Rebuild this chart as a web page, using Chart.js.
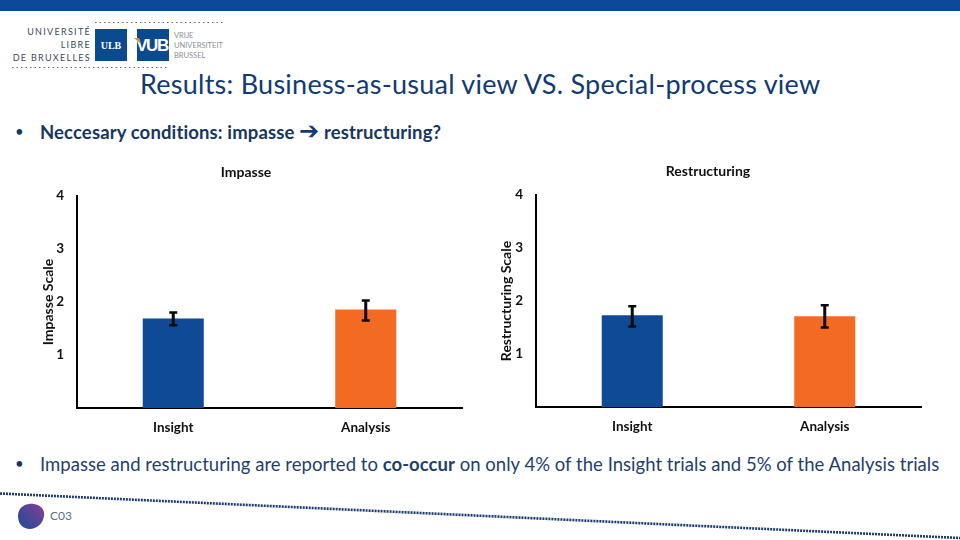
<!DOCTYPE html>
<html><head><meta charset="utf-8">
<script src="https://cdn.jsdelivr.net/npm/chart.js@4"></script>
<style>
html,body{margin:0;padding:0;background:#fff;}
#s{position:relative;width:960px;height:540px;overflow:hidden;font-family:Lato,sans-serif;color:#17365f;}
.t{position:absolute;white-space:nowrap;line-height:1;}
canvas{position:absolute;}
</style></head><body>
<div id="s">
<div style="position:absolute;left:0;top:0;width:960px;height:11px;background:#0c4a99"></div>
<svg style="position:absolute;left:0;top:0" width="960" height="540">
 <defs><linearGradient id="g" x1="0" y1="1" x2="1" y2="0"><stop offset="0.2" stop-color="#2f4a96"/><stop offset="1" stop-color="#8a3c96"/></linearGradient></defs>
 <line x1="95" y1="22.5" x2="223" y2="22.5" stroke="#666" stroke-width="1.2" stroke-dasharray="1.5 3"/>
 <line x1="12" y1="67.5" x2="168" y2="67.5" stroke="#666" stroke-width="1.2" stroke-dasharray="1.5 3"/>
 <rect x="95" y="29" width="32" height="32" fill="#0c4a8f"/>
 <rect x="137" y="29" width="32" height="32" fill="#0c4a8f"/>
 <line x1="0" y1="493.5" x2="960" y2="538" stroke="#1c3c72" stroke-width="2.6" stroke-dasharray="2 1"/>
 <path d="M18 516 C18 507 26 503 34 504 C41 505 45 510 44 516 C43 524 36 529 30 529 C23 529 18 524 18 516 Z" fill="url(#g)"/>
</svg>
<div class="t" style="right:869px;top:27px;font-size:9px;letter-spacing:1.3px;color:#3d4a5a;">UNIVERSITÉ</div>
<div class="t" style="right:869px;top:40px;font-size:9px;letter-spacing:1.3px;color:#3d4a5a;">LIBRE</div>
<div class="t" style="right:869px;top:53px;font-size:9px;letter-spacing:1.3px;color:#3d4a5a;">DE BRUXELLES</div>
<div class="t" style="left:95px;width:32px;text-align:center;top:40px;font:bold 10px 'Liberation Serif',serif;color:#fff;">ULB</div>
<div class="t" style="left:135px;width:34px;text-align:center;top:36px;font:bold 17px 'Liberation Sans',sans-serif;letter-spacing:-1.4px;color:#fff;">VUB</div>
<svg style="position:absolute;left:0;top:0" width="960" height="540"><path d="M134 38 L139 38 L141 44 Z" fill="#e08a3c"/></svg>
<div class="t" style="left:174px;top:32px;font-size:7.5px;color:#8a8f96;">VRIJE</div>
<div class="t" style="left:174px;top:42px;font-size:7.5px;color:#8a8f96;">UNIVERSITEIT</div>
<div class="t" style="left:174px;top:52px;font-size:7.5px;color:#8a8f96;">BRUSSEL</div>
<div class="t" id="title" style="left:140px;top:70px;font-size:27px;letter-spacing:0.25px;color:#123a73;">Results: Business-as-usual view VS. Special-process view</div>
<div class="t" style="left:15px;top:124px;font-size:15px;color:#17365f;">•</div>
<div class="t" id="l1" style="left:40px;top:122.5px;font-size:18.5px;font-weight:700;letter-spacing:0.13px;color:#17365f;">Neccesary conditions: impasse <span style="font-family:'DejaVu Sans';font-size:24px;line-height:10px;color:#123a73;">➔</span> restructuring?</div>
<div class="t" style="left:15px;top:456px;font-size:15px;color:#17365f;">•</div>
<div class="t" id="l2" style="left:40px;top:454.5px;font-size:18.5px;letter-spacing:0.03px;color:#1f3f6d;">Impasse and restructuring are reported to <b>co-occur</b> on only 4% of the Insight trials and 5% of the Analysis trials</div>
<div class="t" style="left:50px;top:510px;font-size:12px;color:#5c6f8c;">C03</div>
<canvas id="a" style="left:30px;top:160px;width:444px;height:280px"></canvas>
<canvas id="b" style="left:495px;top:159px;width:428px;height:280px"></canvas>
</div>
<script>
const categories = ["Insight", "Analysis"];
const barColors = ["#0f4a96", "#f36a22"];
const tickLabels = [1, 2, 3, 4];
const impasseValues = [1.69, 1.86];
const impasseLow = [1.56, 1.65];
const impasseHigh = [1.80, 2.03];
const restructuringValues = [1.73, 1.71];
const restructuringLow = [1.52, 1.50];
const restructuringHigh = [1.90, 1.92];

function errorBars(low, high) {
  return {
    id: "errorBars",
    afterDatasetsDraw(chart) {
      const c = chart.ctx, y = chart.scales.y, x = chart.scales.x;
      c.save();
      c.strokeStyle = "#0a0a0a";
      low.forEach((lo, i) => {
        const px = x.getPixelForValue(i), a = y.getPixelForValue(lo), b = y.getPixelForValue(high[i]);
        c.lineWidth = 3;
        c.beginPath(); c.moveTo(px, a); c.lineTo(px, b); c.stroke();
        c.lineWidth = 2.5;
        c.beginPath();
        c.moveTo(px - 4, a); c.lineTo(px + 4, a);
        c.moveTo(px - 4, b); c.lineTo(px + 4, b);
        c.stroke();
      });
      c.restore();
    }
  };
}

function makeChart(id, title, axisTitle, values, low, high, yWidth, rightPad, titleInset) {
  const tickFont = { family: "Lato", size: 13.5, weight: "700" };
  new Chart(document.getElementById(id), {
    type: "bar",
    data: { labels: categories, datasets: [{ data: values, backgroundColor: barColors, categoryPercentage: 1, barPercentage: 0.317 }] },
    plugins: [errorBars(low, high)],
    options: {
      responsive: false,
      animation: false,
      devicePixelRatio: 1,
      layout: { padding: { left: 0, right: rightPad, top: 0, bottom: 0 } },
      plugins: {
        legend: { display: false },
        tooltip: { enabled: false },
        title: { display: true, text: title, color: "#111", font: { family: "Lato", size: 14, weight: "700" }, padding: { top: 4, bottom: 15.2 } }
      },
      scales: {
        x: {
          grid: { display: false, drawTicks: false },
          border: { color: "#000", width: 2 },
          ticks: { color: "#111", font: tickFont, padding: 12 },
          afterFit(s) { s.height = 32; }
        },
        y: {
          min: 0, max: 4,
          afterBuildTicks(s) { s.ticks = [0].concat(tickLabels).map(v => ({ value: v })); },
          grid: { display: false, drawTicks: false },
          border: { color: "#000", width: 2 },
          ticks: { color: "#111", font: tickFont, padding: 13, callback: v => (tickLabels.includes(v) ? String(v) : "") },
          title: { display: true, text: axisTitle, color: "#111", font: { family: "Lato", size: 14, weight: "700" }, padding: { top: titleInset, bottom: 0 } },
          afterFit(s) { s.width = yWidth; }
        }
      }
    }
  });
}
const A = document.getElementById("a"), B = document.getElementById("b");
A.width = 444; A.height = 280; B.width = 428; B.height = 280;
makeChart("a", "Impasse", "Impasse Scale", impasseValues, impasseLow, impasseHigh, 47, 12, 9.6);
makeChart("b", "Restructuring", "Restructuring Scale", restructuringValues, restructuringLow, restructuringHigh, 41, 2, 2.6);
</script>
</body></html>
